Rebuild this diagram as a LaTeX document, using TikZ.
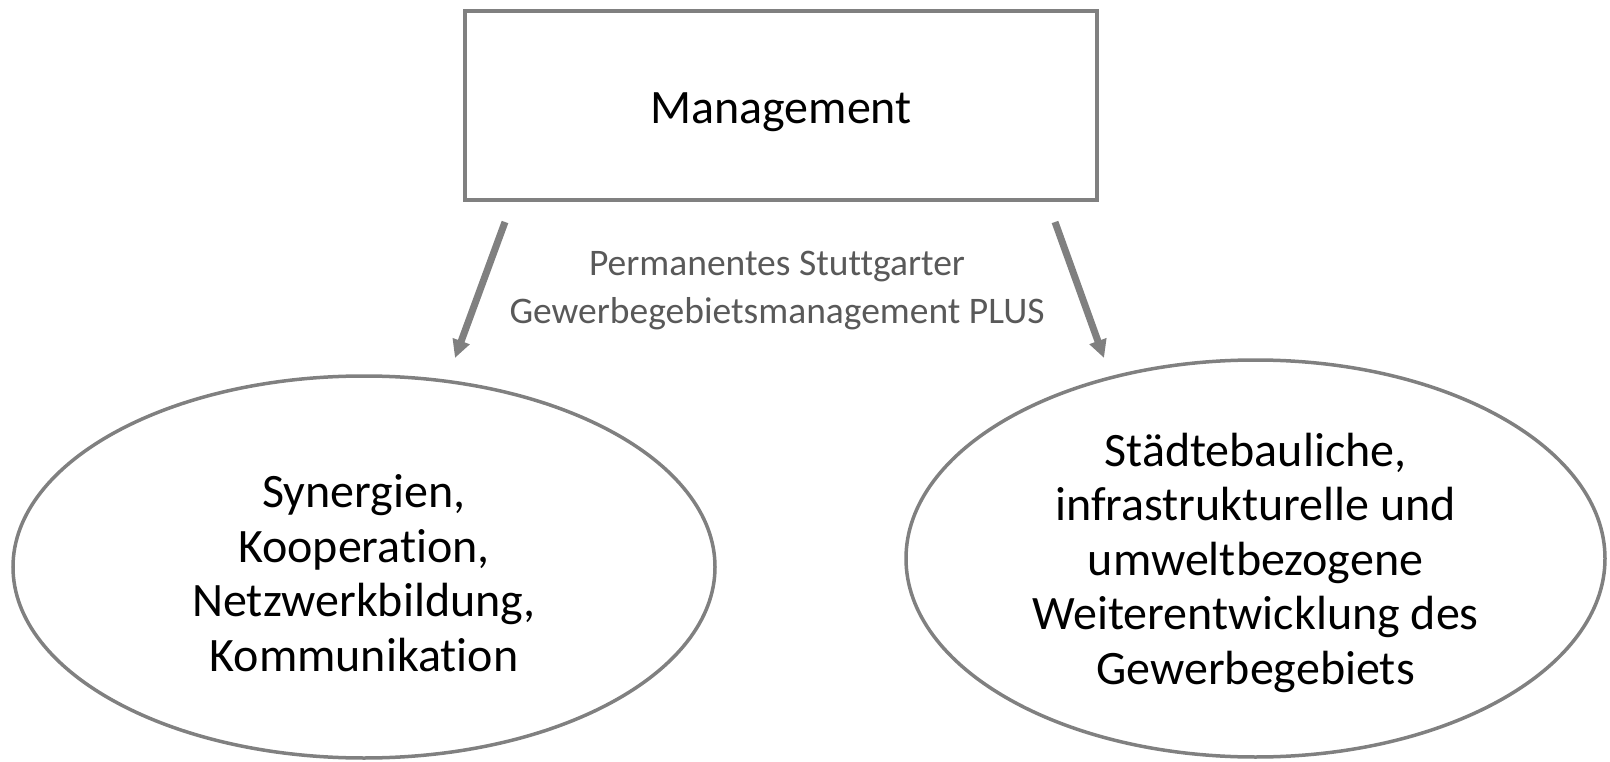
\documentclass[tikz,border=0pt]{standalone}
\usepackage{fontspec}
\setmainfont{Carlito}[Ligatures=CommonOff]
\usetikzlibrary{shapes.geometric,arrows.meta}
\definecolor{rand}{HTML}{808080}
\definecolor{schrift}{HTML}{595959}
\tikzset{
	kasten/.style={draw=rand, line width=4pt, minimum width=632pt, minimum height=189pt, inner sep=0pt},
	blase/.style={ellipse, draw=rand, line width=3.5pt, inner sep=0pt},
	gross/.style={align=center, font=\fontsize{48}{54.5}\selectfont},
	pfeil/.style={draw=rand, line width=7pt, -{Triangle[length=18pt,width=17pt]}}
}
\begin{document}
\begin{tikzpicture}[x=1pt, y=-1pt]
	\useasboundingbox (0, 0) rectangle (1610, 762);
	\node[kasten] (mgmt) at (781, 105.5) {};
	\node[gross] (mgmttext) at ([yshift=-7pt]mgmt.center) {Management};
	\node[text=schrift, align=center, font=\fontsize{37.5}{48}\selectfont] (label) at (777, 291) {Permanentes Stuttgarter\\Gewerbegebietsmanagement PLUS};

	\node[blase, minimum width=702pt, minimum height=382pt] (syn) at (364, 567) {};
	\node[gross] (syntext) at ([yshift=-6pt]syn.center) {Synergien,\\Kooperation,\\Netzwerkbildung,\\Kommunikation};
	\node[blase, minimum width=699pt, minimum height=397pt] (stadt) at (1255.5, 558.5) {};
	\node[gross] (stadttext) at ([yshift=-4pt]stadt.center) {Städtebauliche,\\infrastrukturelle und\\umweltbezogene\\Weiterentwicklung des\\Gewerbegebiets};

	% Pfeile
	\coordinate (links1) at (505, 222);
	\coordinate (links2) at (455, 358);
	\coordinate (rechts1) at (1055, 222);
	\coordinate (rechts2) at (1104, 358);
	\draw[pfeil] (links1) -- (links2);
	\draw[pfeil] (rechts1) -- (rechts2);
\end{tikzpicture}
\end{document}
